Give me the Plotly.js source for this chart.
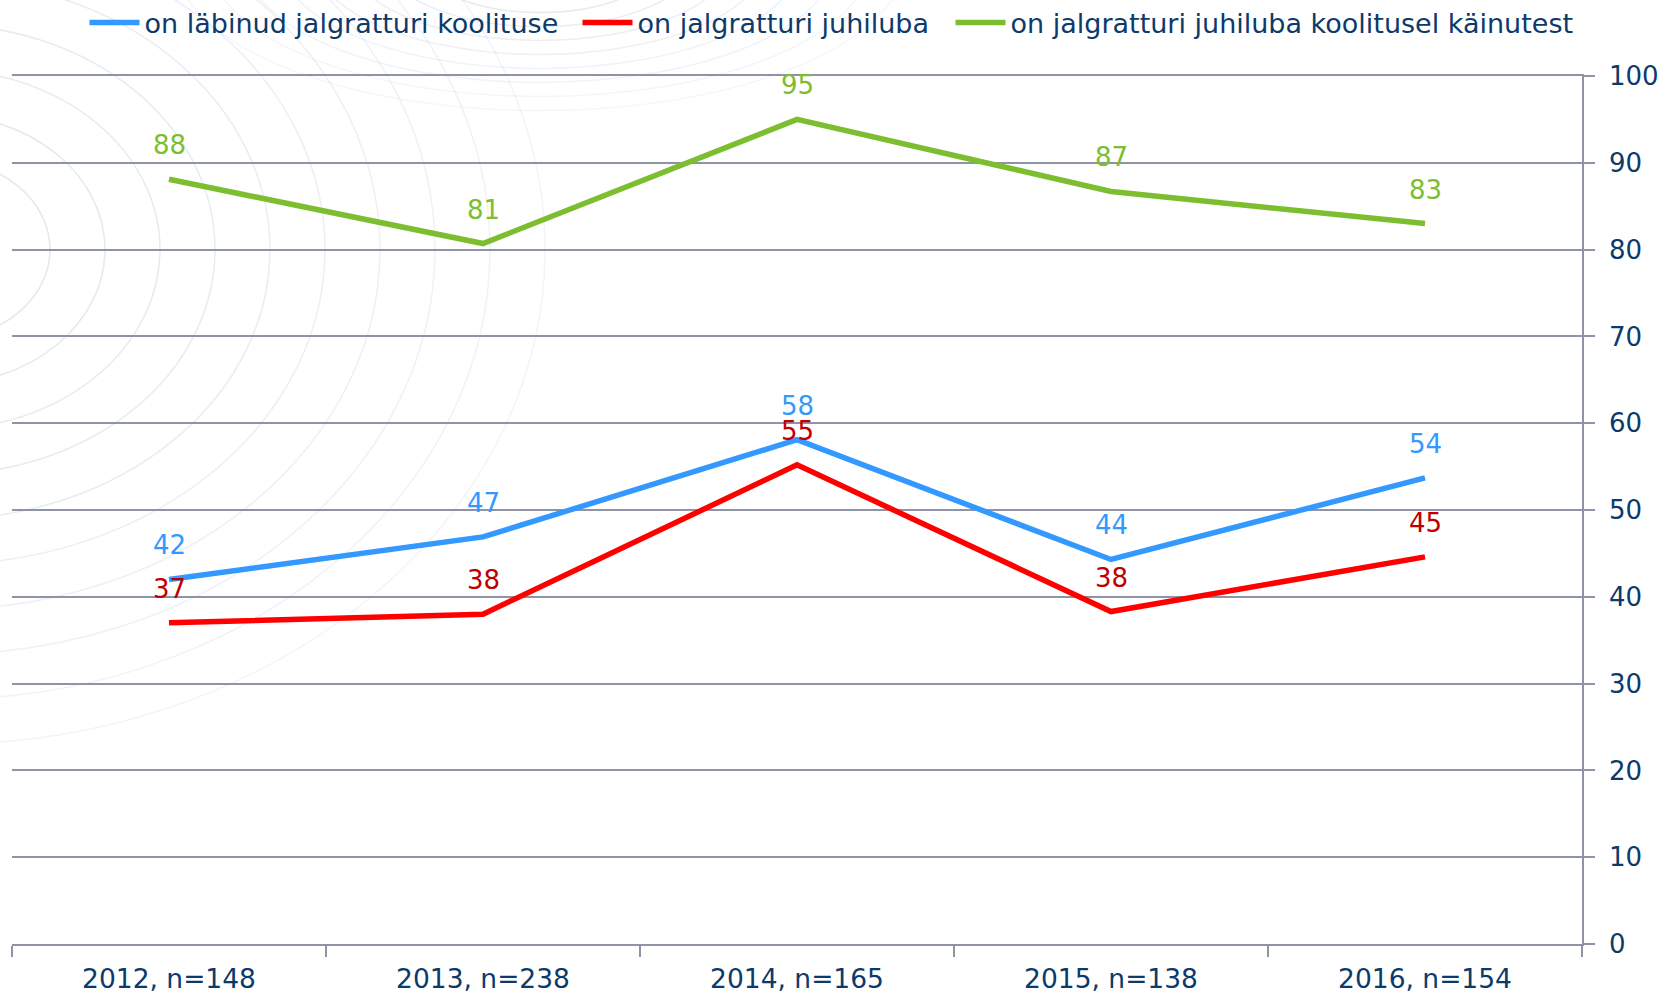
<!DOCTYPE html>
<html>
<head>
<meta charset="utf-8">
<script src="https://cdn.plot.ly/plotly-3.0.1.min.js"></script>
<style>html,body{margin:0;padding:0;background:#fff;}#chart{width:1662px;height:997px;}</style>
</head>
<body>
<div id="chart"></div>
<script>
const categories = ["2012, n=148", "2013, n=238", "2014, n=165", "2015, n=138", "2016, n=154"];
const seriesNames = ["on läbinud jalgratturi koolituse", "on jalgratturi juhiluba", "on jalgratturi juhiluba koolitusel käinutest"];
const blueValues = [42.0, 46.9, 58.1, 44.3, 53.7];
const redValues = [37.0, 38.0, 55.2, 38.3, 44.6];
const greenValues = [88.1, 80.7, 95.0, 86.7, 83.0];
const yTicks = [0, 10, 20, 30, 40, 50, 60, 70, 80, 90, 100];

const lineColors = ["#3399FF", "#FF0000", "#7DBE31"];
const labelColors = ["#3399FF", "#C00000", "#7DBE31"];
const allValues = [blueValues, redValues, greenValues];
const FONT = "Verdana, 'DejaVu Sans', sans-serif";
const navy = "#0B3A6B";
const gridColor = "#8E94A6";
const legendIds = ["legend", "legend2", "legend3"];
const legendX = [84.5, 577.5, 950.5];

const traces = allValues.map((vals, i) => ({
  type: "scatter",
  mode: "lines",
  x: categories,
  y: vals,
  name: seriesNames[i],
  legend: legendIds[i],
  line: {color: lineColors[i], width: 5.5},
  hoverinfo: "x+y+name"
}));

const annotations = [];
allValues.forEach((vals, i) => {
  vals.forEach((v, j) => {
    annotations.push({
      x: categories[j], y: v, xref: "x", yref: "y",
      text: String(Math.round(v)),
      showarrow: false,
      yshift: 34,
      font: {family: FONT, size: 26, color: labelColors[i]}
    });
  });
});

// decorative faint background arcs (top-left)
const shapes = [];
const plotL = 12, plotW = 1570, plotB = 944.5, plotH = 868;
function px2x(p) { return (p - plotL) / plotW; }
function py2y(p) { return (plotB - p) / plotH; }
for (let k = 1; k <= 11; k++) {
  const cx = -60, cy = 250;
  const rx = 55 * k, ry = 45 * k;
  shapes.push({
    type: "circle", xref: "paper", yref: "paper", layer: "below",
    x0: px2x(cx - rx), x1: px2x(cx + rx), y0: py2y(cy + ry), y1: py2y(cy - ry),
    line: {color: "rgba(170,185,210," + (0.38 - k * 0.02).toFixed(3) + ")", width: 1.5}
  });
}
for (let k = 1; k <= 9; k++) {
  const cx = 540, cy = -40;
  const rx = 35 * k + 50, ry = 14 * k + 25;
  shapes.push({
    type: "circle", xref: "paper", yref: "paper", layer: "below",
    x0: px2x(cx - rx), x1: px2x(cx + rx), y0: py2y(cy + ry), y1: py2y(cy - ry),
    line: {color: "rgba(170,185,210," + (0.34 - k * 0.025).toFixed(3) + ")", width: 1.5}
  });
}

function makeLegend(i) {
  return {
    orientation: "h",
    xref: "container", yref: "container",
    x: legendX[i] / 1662, y: 0.977, xanchor: "left", yanchor: "middle",
    font: {family: FONT, size: 27, color: navy},
    bgcolor: "rgba(0,0,0,0)",
    itemwidth: 50
  };
}

const layout = {
  width: 1662, height: 997,
  margin: {l: 12, r: 80, t: 76, b: 52.5, pad: 0},
  paper_bgcolor: "#ffffff",
  plot_bgcolor: "rgba(0,0,0,0)",
  font: {family: FONT, size: 26, color: navy},
  showlegend: true,
  legend: makeLegend(0),
  legend2: makeLegend(1),
  legend3: makeLegend(2),
  xaxis: {
    type: "category",
    range: [-0.5, 4.5],
    showgrid: false,
    showline: true, linecolor: gridColor, linewidth: 2, mirror: true,
    ticks: "outside", tickson: "boundaries", ticklen: 11, tickcolor: gridColor, tickwidth: 1.5,
    tickfont: {family: FONT, size: 26.5, color: navy},
    ticklabelstandoff: 10,
    zeroline: false, fixedrange: true
  },
  yaxis: {
    side: "right",
    range: [0, 100],
    tickvals: yTicks,
    ticktext: yTicks.map(String),
    showgrid: true, gridcolor: gridColor, gridwidth: 2,
    showline: true, linecolor: gridColor, linewidth: 1.5,
    ticks: "outside", ticklen: 11, tickcolor: gridColor, tickwidth: 1.5,
    tickfont: {family: FONT, size: 26, color: navy},
    ticklabelstandoff: 9,
    zeroline: false, fixedrange: true
  },
  annotations: annotations,
  shapes: shapes
};

Plotly.newPlot("chart", traces, layout, {displayModeBar: false, responsive: false});
</script>
</body>
</html>
